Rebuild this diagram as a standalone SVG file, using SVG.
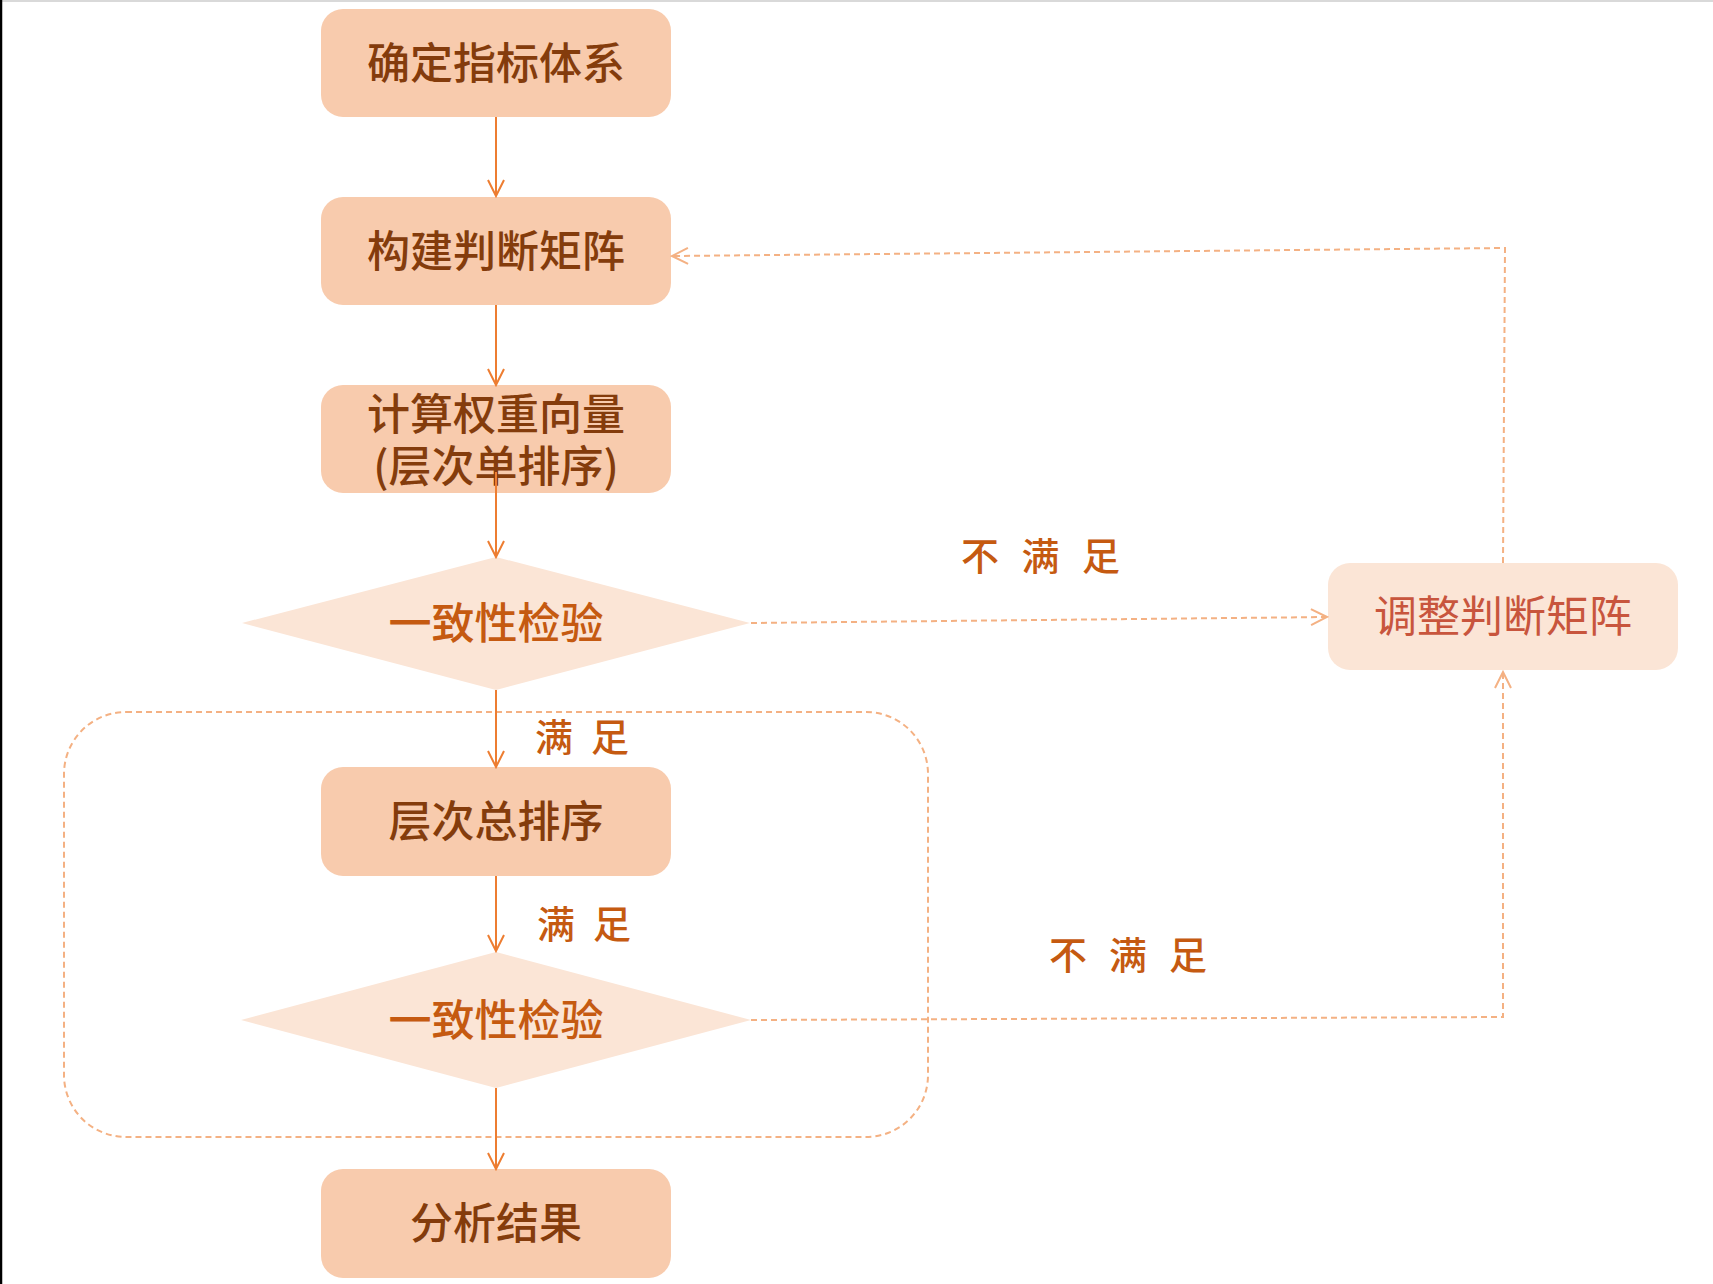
<svg xmlns="http://www.w3.org/2000/svg" width="1713" height="1284" viewBox="0 0 1713 1284">
<style>
.box{fill:#f8cbad;}
.dia{fill:#fbe5d6;}
.adj{fill:#fbe5d6;}
.t{font-family:"Noto Sans CJK SC","Noto Sans",sans-serif;font-size:43px;font-weight:500;fill:#843c0c;text-anchor:middle;dominant-baseline:central;}
.td{font-family:"Noto Sans CJK SC","Noto Sans",sans-serif;font-size:43px;font-weight:500;fill:#c55a11;text-anchor:middle;dominant-baseline:central;}
.ta{font-family:"Noto Sans CJK SC","Noto Sans",sans-serif;font-size:43px;fill:#c8553d;text-anchor:middle;dominant-baseline:central;}
.lbl{font-family:"Noto Sans CJK SC","Noto Sans",sans-serif;font-size:38px;font-weight:500;fill:#c55a11;dominant-baseline:central;}
.solid{fill:none;stroke:#ed7d31;stroke-width:2;}
.dash{fill:none;stroke:#f4b183;stroke-width:2;stroke-dasharray:6 4;}
</style>
<defs>
<marker id="as" markerUnits="userSpaceOnUse" markerWidth="20" markerHeight="20" refX="18" refY="10" orient="auto" viewBox="0 0 20 20">
<path d="M2,2 L18,10 L2,18" fill="none" stroke="#ed7d31" stroke-width="2"/>
</marker>
<marker id="ad" markerUnits="userSpaceOnUse" markerWidth="20" markerHeight="20" refX="18" refY="10" orient="auto" viewBox="0 0 20 20">
<path d="M2,2 L18,10 L2,18" fill="none" stroke="#f4b183" stroke-width="2"/>
</marker>
</defs>
<rect x="0" y="0" width="1713" height="1284" fill="#ffffff"/>
<line x1="0" y1="1" x2="1713" y2="1" stroke="#d9d9d9" stroke-width="2"/>
<line x1="1" y1="0" x2="1" y2="1284" stroke="#000000" stroke-width="2.5"/>

<g id="group-frame">
<rect class="dash" x="64" y="712" width="864" height="425" rx="62" ry="62"/>
</g>

<g id="n1"><rect class="box" x="321" y="9" width="350" height="108" rx="22"/><text class="t" x="496" y="60">确定指标体系</text></g>
<g id="n2"><rect class="box" x="321" y="197" width="350" height="108" rx="22"/><text class="t" x="496" y="248">构建判断矩阵</text></g>
<g id="n3"><rect class="box" x="321" y="385" width="350" height="108" rx="22"/><text class="t" x="496" y="411" font-size="42">计算权重向量</text><text class="t" x="496" y="463" font-size="42">(层次单排序)</text></g>
<g id="d1"><polygon class="dia" points="496,557 750,623 496,690 242,623"/><text class="td" x="496" y="620">一致性检验</text></g>
<g id="n4"><rect class="box" x="321" y="767" width="350" height="109" rx="22"/><text class="t" x="496" y="818">层次总排序</text></g>
<g id="d2"><polygon class="dia" points="496,952 751,1020 496,1088 241,1020"/><text class="td" x="496" y="1017">一致性检验</text></g>
<g id="n5"><rect class="box" x="321" y="1169" width="350" height="109" rx="22"/><text class="t" x="496" y="1220">分析结果</text></g>
<g id="adj"><rect class="adj" x="1328" y="563" width="350" height="107" rx="22"/><text class="ta" x="1503" y="613">调整判断矩阵</text></g>

<g id="connectors">
<line class="solid" x1="496" y1="117" x2="496" y2="196" marker-end="url(#as)"/>
<line class="solid" x1="496" y1="305" x2="496" y2="385" marker-end="url(#as)"/>
<line class="solid" x1="496" y1="472" x2="496" y2="557" marker-end="url(#as)"/>
<line class="solid" x1="496" y1="690" x2="496" y2="767" marker-end="url(#as)"/>
<line class="solid" x1="496" y1="876" x2="496" y2="951" marker-end="url(#as)"/>
<line class="solid" x1="496" y1="1088" x2="496" y2="1169" marker-end="url(#as)"/>
<path class="dash" d="M751,623 L1327,617" marker-end="url(#ad)"/>
<path class="dash" d="M751,1020 L1503,1017 L1503,672" marker-end="url(#ad)"/>
<path class="dash" d="M1503,563 L1505,248 L672,256" marker-end="url(#ad)"/>
</g>

<g id="labels">
<text class="lbl" x="961" y="553" textLength="159" lengthAdjust="spacing">不 满 足</text>
<text class="lbl" x="535" y="734" textLength="94" lengthAdjust="spacing">满 足</text>
<text class="lbl" x="537" y="921" textLength="94" lengthAdjust="spacing">满 足</text>
<text class="lbl" x="1049" y="952" textLength="158" lengthAdjust="spacing">不 满 足</text>
</g>
</svg>
